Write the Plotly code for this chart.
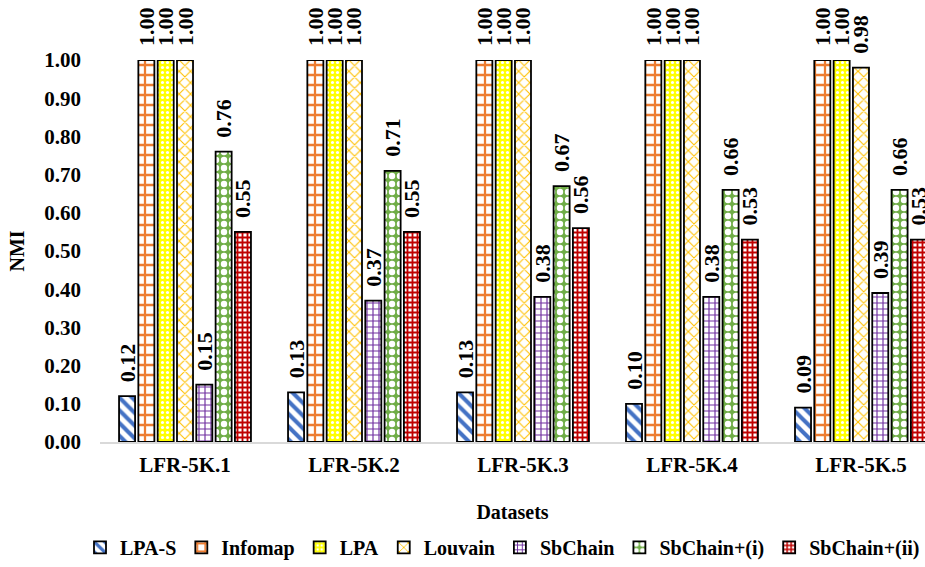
import plotly.graph_objects as go

datasets = ["LFR-5K.1", "LFR-5K.2", "LFR-5K.3", "LFR-5K.4", "LFR-5K.5"]

lpa_s = [0.12, 0.13, 0.13, 0.10, 0.09]
infomap = [1.00, 1.00, 1.00, 1.00, 1.00]
lpa = [1.00, 1.00, 1.00, 1.00, 1.00]
louvain = [1.00, 1.00, 1.00, 1.00, 0.98]
sbchain = [0.15, 0.37, 0.38, 0.38, 0.39]
sbchain_i = [0.76, 0.71, 0.67, 0.66, 0.66]
sbchain_ii = [0.55, 0.55, 0.56, 0.53, 0.53]

y_ticks = [0.0, 0.1, 0.2, 0.3, 0.4, 0.5, 0.6, 0.7, 0.8, 0.9, 1.0]

FONT = "'Times New Roman', 'Liberation Serif', serif"

# name, values, pattern shape, foreground, background, size, solidity
series = [
    ("LPA-S", lpa_s, "\\", "#4472C4", "#FFFFFF", 9, 0.45),
    ("Infomap", infomap, "+", "#ED7D31", "#FFFFFF", 10, 0.4),
    ("LPA", lpa, ".", "#FFFFFF", "#FFFF00", 5, 0.3),
    ("Louvain", louvain, "x", "#FFC000", "#FFFFFF", 8, 0.25),
    ("SbChain", sbchain, "+", "#7030A0", "#FFFFFF", 6, 0.35),
    ("SbChain+(i)", sbchain_i, ".", "#FFFFFF", "#70AD47", 8, 0.5),
    ("SbChain+(ii)", sbchain_ii, "+", "#C00000", "#FFFFFF", 5, 0.6),
]

fig = go.Figure()
for name, vals, shape, fg, bg, size, sol in series:
    fig.add_trace(go.Bar(
        name=name,
        x=datasets,
        y=vals,
        marker=dict(
            color=bg,
            line=dict(color="#000000", width=1.8),
            pattern=dict(shape=shape, fgcolor=fg, bgcolor=bg,
                         size=size, solidity=sol, fillmode="replace"),
        ),
        # leading no-break spaces keep the value clear of the bar top
        texttemplate="\u00a0\u00a0%{y:.2f}",
        textposition="outside",
        textangle=-90,
        constraintext="none",
        cliponaxis=False,
        textfont=dict(family=FONT, size=22, color="#000000", weight="bold"),
    ))

fig.update_layout(
    width=925,
    height=567,
    margin=dict(l=100, r=0, t=60, b=123),
    paper_bgcolor="#FFFFFF",
    plot_bgcolor="#FFFFFF",
    barmode="group",
    bargap=0.2,
    bargroupgap=0.17,
    font=dict(family=FONT, size=20, color="#000000"),
    xaxis=dict(
        range=[-0.503, 4.379],
        showline=True,
        linecolor="#D9D9D9",
        linewidth=1.5,
        showgrid=False,
        ticks="",
        ticklabelstandoff=3,
        tickfont=dict(family=FONT, size=21, color="#000000", weight="bold"),
        title=dict(text="<b>Datasets</b>", font=dict(family=FONT, size=20), standoff=29),
    ),
    yaxis=dict(
        range=[0, 1.0],
        tickvals=y_ticks,
        ticktext=[f"{v:.2f}" for v in y_ticks],
        showline=False,
        showgrid=False,
        zeroline=False,
        ticks="",
        ticklabelstandoff=18,
        tickfont=dict(family=FONT, size=21, color="#000000", weight="bold"),
        title=dict(text="<b>NMI</b>", font=dict(family=FONT, size=20), standoff=14),
    ),
    legend=dict(
        orientation="h",
        x=-0.012,
        xanchor="left",
        y=-0.276,
        yanchor="middle",
        font=dict(family=FONT, size=20, weight="bold"),
        itemwidth=30,
        traceorder="normal",
        tracegroupgap=0,
    ),
)

fig.write_html("out.html")
